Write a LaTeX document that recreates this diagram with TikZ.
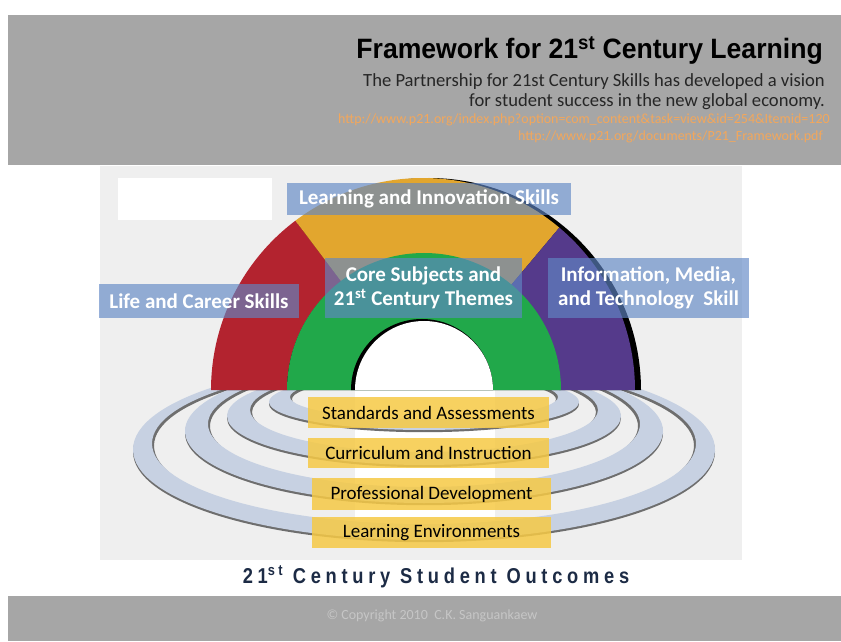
\documentclass[tikz,border=0pt]{standalone}
\usepackage{fontspec}
\usepackage{graphicx}
\setmainfont{Carlito}
\newfontfamily\arialf{Liberation Sans}
\newfontfamily\outf[LetterSpace=26]{Liberation Sans}
\usetikzlibrary{calc}
\definecolor{bandgray}{HTML}{A6A6A6}
\definecolor{panelgray}{HTML}{EFEFEF}
\definecolor{rbred}{HTML}{B3232F}
\definecolor{rbgold}{HTML}{E2A62E}
\definecolor{rbpurple}{HTML}{553A8B}
\definecolor{rbgreen}{HTML}{21A84A}
\definecolor{ringfill}{HTML}{C7D1E2}
\definecolor{ringdark}{HTML}{6E6E6E}
\definecolor{lblblue}{HTML}{6087C5}
\definecolor{lblgold}{HTML}{F6C945}
\definecolor{urlorange}{HTML}{F3A65B}
\definecolor{subdark}{HTML}{262626}
\definecolor{outnavy}{HTML}{1C2B45}
\definecolor{copygray}{HTML}{C6C6C6}
\newcommand{\ringband}[6]{% Yo rxo ryo Yi rxi ryi
  \fill[ringdark, even odd rule] (424,#1-2.2) ellipse[x radius=#2pt, y radius=#3pt]
     (424,#4-2.2) ellipse[x radius=#5pt-2pt, y radius=#6pt];
  \fill[ringfill, even odd rule] (424,#1) ellipse[x radius=#2pt, y radius=#3pt]
     (424,#4) ellipse[x radius=#5pt, y radius=#6pt];
}
\newcommand{\annsec}[5]{% color start end rin rout
  \fill[#1] ($(C)+(#2:#5pt)$) arc[start angle=#2, end angle=#3, radius=#5pt]
     -- ($(C)+(#3:#4pt)$) arc[start angle=#3, end angle=#2, radius=#4pt] -- cycle;
}
\begin{document}
\begin{tikzpicture}[x=1pt,y=1pt,
  bluelbl/.style={fill=lblblue, fill opacity=0.65, text opacity=1, text=white,
    font=\fontsize{21}{24}\selectfont\bfseries, inner sep=0pt, align=center},
  goldlbl/.style={fill=lblgold, fill opacity=0.85, text opacity=1, text=black,
    font=\fontsize{19}{22}\selectfont, inner sep=0pt},
  txt/.style={inner sep=0pt}]
\useasboundingbox (0,0) rectangle (841,641);
\fill[white] (0,0) rectangle (841,641);
% bands and panel
\fill[bandgray] (8,476) rectangle (841,626);
\fill[bandgray] (8,0) rectangle (841,45);
\fill[panelgray] (100,81) rectangle (742,475);
\fill[white] (118,421) rectangle (272,463);
\fill[white] (355,121) rectangle (495,251);
% header texts
\node[txt, anchor=base east, font=\arialf\bfseries\fontsize{28}{30}\selectfont] (title) at (823,582)
  {\scalebox{0.95}[1]{Framework for 21\textsuperscript{st} Century Learning}};
\node[txt, anchor=base east, text=subdark, font=\fontsize{18.6}{20}\selectfont] (sub1) at (825,554)
  {The Partnership for 21st Century Skills has developed a vision};
\node[txt, anchor=base east, text=subdark, font=\fontsize{18.6}{20}\selectfont] (sub2) at (825,534)
  {for student success in the new global economy.};
\node[txt, anchor=base east, text=urlorange, font=\fontsize{14}{15}\selectfont] (url1) at (830,517)
  {http://www.p21.org/index.php?option=com\_content\&task=view\&id=254\&Itemid=120};
\node[txt, anchor=base east, text=urlorange, font=\fontsize{14}{15}\selectfont] (url2) at (823,500)
  {http://www.p21.org/documents/P21\_Framework.pdf};
% rings
\ringband{191.5}{291}{90.5}{197.5}{272}{80.5}
\ringband{210}{239}{72}{217}{216}{63}
\ringband{225}{197}{49}{231}{174}{42}
\ringband{239}{155}{28}{244}{134}{22}
% rainbow
\coordinate (C) at (423,251);
\fill[black] (641,251) arc[start angle=0, end angle=180, radius=212pt] -- cycle;
\annsec{rbred}{127}{180}{136}{212}
\annsec{rbgold}{50}{127}{136}{212}
\annsec{rbpurple}{0}{50}{136}{212}
\fill[rbgreen] (561,251) arc[start angle=0, end angle=180, radius=137pt] -- cycle;
\fill[black] (493,251) arc[start angle=0, end angle=180, radius=71pt] -- cycle;
\fill[white] (493,251) arc[start angle=0, end angle=180, radius=69pt] -- cycle;
% blue labels
\node[bluelbl, minimum width=284pt, minimum height=32pt] (lis) at (429,442) {Learning and Innovation Skills};
\node[bluelbl, minimum width=200pt, minimum height=34pt] (life) at (199,340) {Life and Career Skills};
\node[bluelbl, minimum width=197pt, minimum height=60pt] (core) at (423.5,353)
  {Core Subjects and\\21\textsuperscript{st} Century Themes};
\node[bluelbl, minimum width=201pt, minimum height=60pt] (info) at (648.5,353)
  {Information, Media,\\and Technology\ \ Skill};
% gold labels
\node[goldlbl, minimum width=241pt, minimum height=31pt] (sa) at (428.5,228.5) {Standards and Assessments};
\node[goldlbl, minimum width=241pt, minimum height=30pt] (ci) at (428.5,188) {Curriculum and Instruction};
\node[goldlbl, minimum width=239pt, minimum height=32pt] (pd) at (431.5,147) {Professional Development};
\node[goldlbl, minimum width=239pt, minimum height=31pt] (le) at (431.5,108.5) {Learning Environments};
% bottom texts
\node[txt, anchor=base, text=outnavy, font=\outf\bfseries\fontsize{21.5}{23}\selectfont] (outc) at (436,58)
  {\scalebox{0.85}[1]{21\textsuperscript{st} Century Student Outcomes}};
\node[txt, text=copygray, font=\fontsize{14}{15}\selectfont] (copy) at (432,25)
  {\textcopyright{} Copyright 2010\ \ C.K. Sanguankaew};
\end{tikzpicture}
\end{document}
